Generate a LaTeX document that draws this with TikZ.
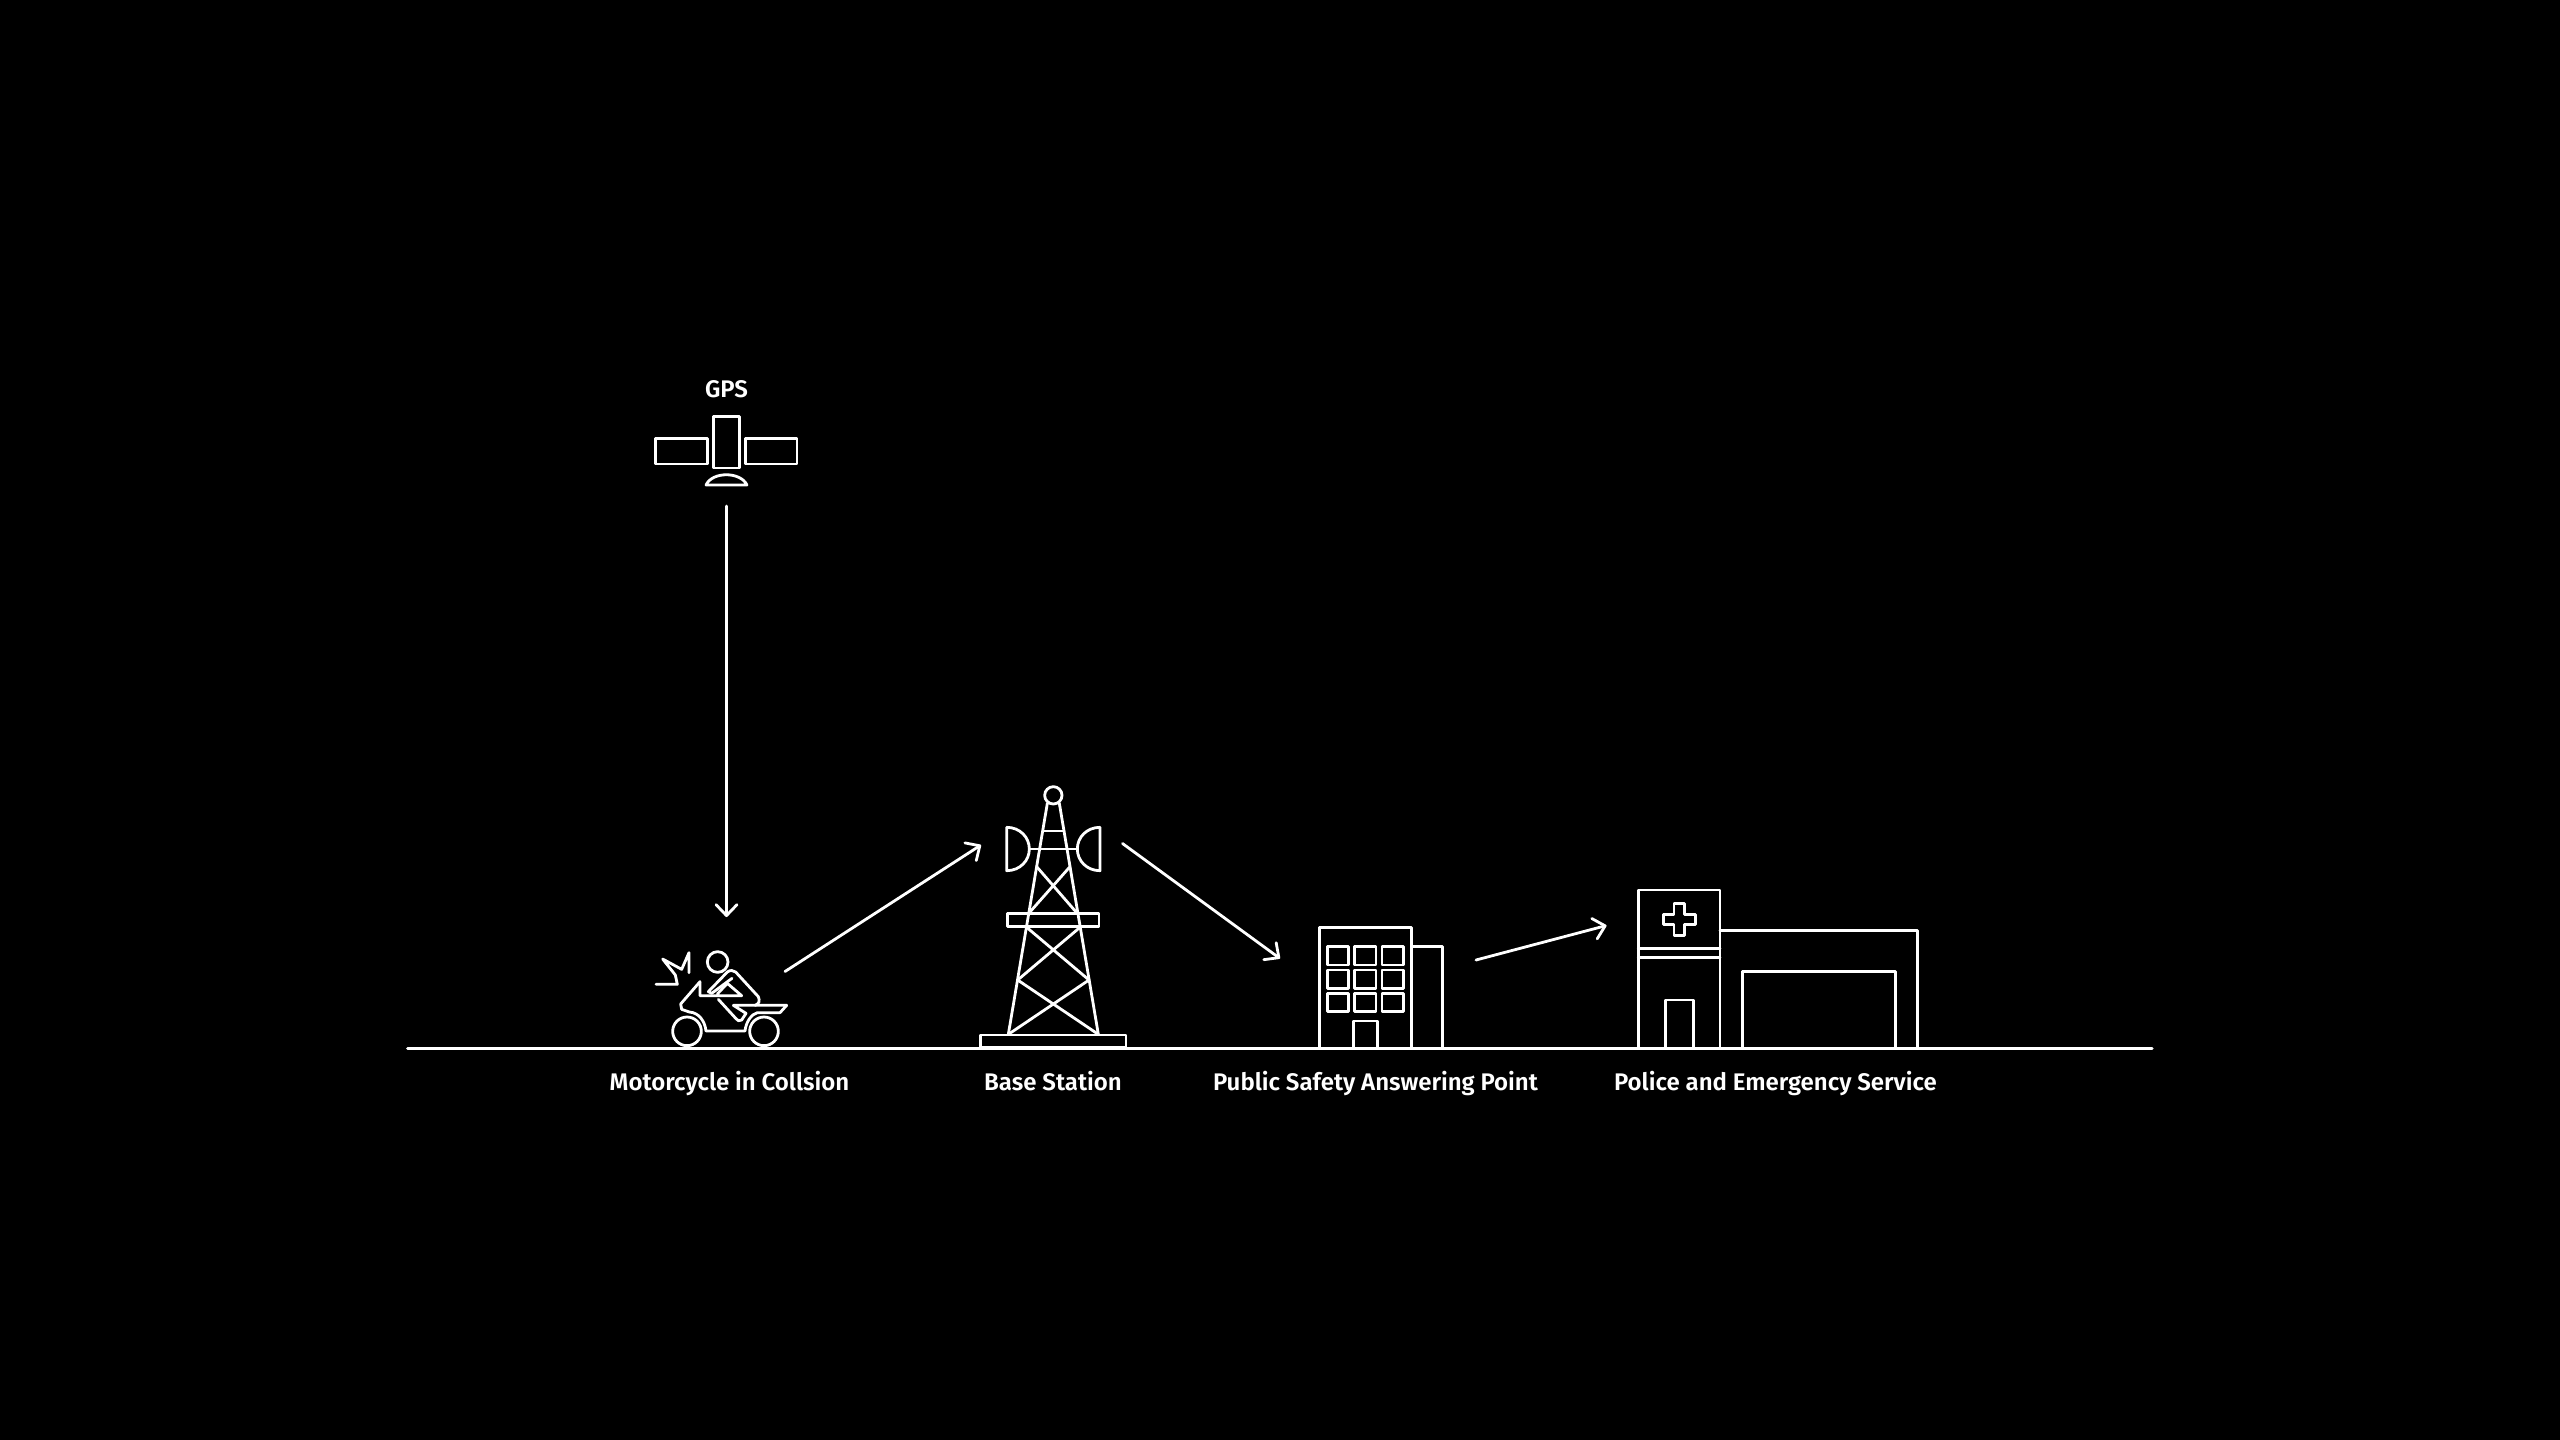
\documentclass[tikz,border=0pt]{standalone}
\usepackage{fontspec}
\usetikzlibrary{arrows.meta}
\newfontfamily\labfont{Fira Sans SemiBold}
\tikzset{
  ln/.style={draw=white,line width=2.8pt,line cap=round,line join=round},
  flow/.style={ln,-{Straight Barb[length=11pt,width=21pt,line width=2.8pt,round]}},
  lab/.style={text=white,font=\labfont\fontsize{24}{26}\selectfont,inner sep=0pt,anchor=base},
  zoomat/.style 2 args={shift={(#1,#2)},x=0.33333pt,y=-0.33333pt},
}
\begin{document}
\begin{tikzpicture}[x=1pt,y=-1pt]
\useasboundingbox (0,0) rectangle (2560,1440);
\fill[black] (0,0) rectangle (2560,1440);
% ground
\coordinate (gl) at (407.5,1048);
\coordinate (gr) at (2152,1048);
\draw[ln,line width=3pt] (gl) -- (gr);
% labels
\node[lab] (tgps) at (726.5,397.5) {GPS};
\node[lab] (tmoto) at (729.5,1090.5) {Motorcycle in Collsion};
\node[lab] (tbase) at (1053,1090.5) {Base Station};
\node[lab] (tpsap) at (1375.5,1090.5) {Public Safety Answering Point};
\node[lab] (tpol) at (1775.5,1090.5) {Police and Emergency Service};
% satellite
\begin{scope}[zoomat={630}{370}]
\draw[ln] (250,140) rectangle (328,294);
\draw[ln] (77,206) rectangle (233,282);
\draw[ln] (347,206) rectangle (501,282);
\draw[ln] (228,345) .. controls (247,304) and (331,304) .. (351,345) -- cycle;
\end{scope}
% motorcycle
\begin{scope}[zoomat={640}{930}]
\draw[ln] (233,96) circle (31);
\draw[ln] (141,304) circle (43);
\draw[ln] (372,304) circle (43);
\draw[ln] (147,128) -- (147,68) -- (125,118) -- (68,87) -- (106,135) -- (112,163) -- (48,163);
\draw[ln] (180,155) -- (122,222) -- (125,238) -- (148,246) .. controls (178,248) and (195,275) .. (198,303) -- (315,303) .. controls (318,275) and (335,252) .. (352,248) -- (420,248) -- (440,226) -- (280,226) -- (318,250) -- (305,270) .. controls (298,275) and (292,272) .. (288,266) -- (235,208);
\draw[ln] (180,155) -- (180,197) -- (305,197) -- (262,160) -- (232,192);
\draw[ln] (276,145) -- (215,190) -- (205,185) -- (262,126) .. controls (270,120) and (280,120) .. (287,126) -- (355,200) .. controls (360,212) and (358,222) .. (345,226);
\end{scope}
% tower
\begin{scope}[zoomat={960}{770}]
\draw[ln] (280,76) circle (26);
\draw[ln] (262,100) -- (145,793);
\draw[ln] (298,100) -- (415,793);
\draw[ln] (248,183) -- (312,183);
\draw[ln] (208,237) -- (352,237);
\draw[ln] (140,172) -- (140,302) .. controls (180,302) and (208,272) .. (208,237) .. controls (208,202) and (180,172) .. (140,172);
\draw[ln] (420,172) -- (420,302) .. controls (380,302) and (352,272) .. (352,237) .. controls (352,202) and (380,172) .. (420,172);
\draw[ln] (230,290) -- (350,428);
\draw[ln] (330,290) -- (208,428);
\draw[ln] (143,430) rectangle (417,470);
\draw[ln] (200,472) -- (387,630);
\draw[ln] (360,472) -- (173,630);
\draw[ln] (173,630) -- (415,793);
\draw[ln] (387,630) -- (145,793);
\draw[ln] (62,795) rectangle (498,832);
\end{scope}
% public safety building
\begin{scope}[zoomat={1300}{910}]
\draw[ln] (58,413) -- (58,52) -- (335,52) -- (335,413);
\draw[ln] (335,110) -- (428,110) -- (428,413);
\foreach \xa/\xb in {82/146,163/228,246/310}
  \foreach \ya/\yb in {110/165,180/235,250/305}
    \draw[ln] (\xa,\ya) rectangle (\xb,\yb);
\draw[ln] (160,413) -- (160,333) -- (232,333) -- (232,413);
\end{scope}
% police / hospital
\begin{scope}[zoomat={1620}{870}]
\draw[ln] (55,533) -- (55,60) -- (300,60) -- (300,533);
\draw[ln] (55,235) -- (300,235);
\draw[ln] (55,262) -- (300,262);
\draw[ln] (136,533) -- (136,390) -- (220,390) -- (220,533);
\draw[ln] (300,182) -- (892,182) -- (892,533);
\draw[ln] (368,533) -- (368,304) -- (826,304) -- (826,533);
\draw[ln] (162,100) -- (194,100) -- (194,133) -- (226,133) -- (226,164) -- (194,164) -- (194,196) -- (162,196) -- (162,164) -- (130,164) -- (130,133) -- (162,133) -- cycle;
\end{scope}
% connectors
\coordinate (satOut) at (726.5,506);
\coordinate (motoIn) at (726.5,917);
\coordinate (motoOut) at (785,971.5);
\coordinate (towerIn) at (981,845);
\coordinate (towerOut) at (1122.5,843.5);
\coordinate (psapIn) at (1280,958.5);
\coordinate (psapOut) at (1476,960);
\coordinate (polIn) at (1606.5,925.5);
\draw[flow] (satOut) -- (motoIn);
\draw[flow] (motoOut) -- (towerIn);
\draw[flow] (towerOut) -- (psapIn);
\draw[flow] (psapOut) -- (polIn);
\end{tikzpicture}
\end{document}
